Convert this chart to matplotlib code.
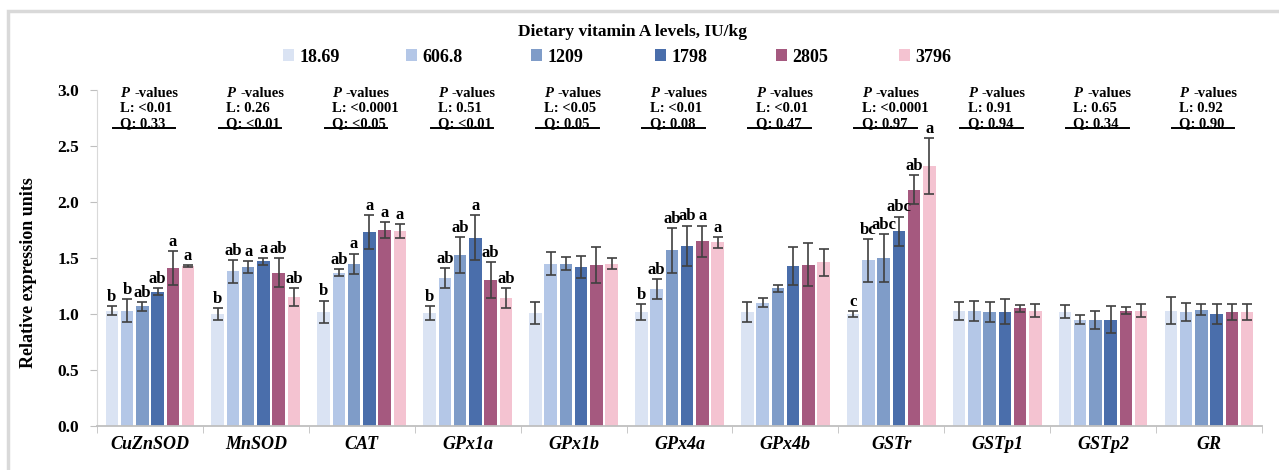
import numpy as np
import matplotlib
matplotlib.use("Agg")
import matplotlib.pyplot as plt
from matplotlib.patches import Patch, Rectangle

plt.rcParams['font.family'] = ['Liberation Serif', 'DejaVu Serif']
plt.rcParams['font.weight'] = 'bold'

# ---- data ----
genes = ['CuZnSOD', 'MnSOD', 'CAT', 'GPx1a', 'GPx1b', 'GPx4a',
         'GPx4b', 'GSTr', 'GSTp1', 'GSTp2', 'GR']
levels = ['18.69', '606.8', '1209', '1798', '2805', '3796']
colors = ['#dae3f3', '#b4c7e7', '#7f9cc8', '#4a6eab', '#a5597f', '#f4c3d1']

means = [
    [1.03, 1.03, 1.07, 1.20, 1.41, 1.43],
    [1.00, 1.38, 1.42, 1.47, 1.37, 1.15],
    [1.02, 1.37, 1.45, 1.73, 1.75, 1.74],
    [1.01, 1.32, 1.53, 1.68, 1.30, 1.14],
    [1.01, 1.45, 1.45, 1.42, 1.44, 1.45],
    [1.02, 1.22, 1.57, 1.61, 1.65, 1.64],
    [1.02, 1.10, 1.23, 1.43, 1.44, 1.46],
    [1.00, 1.48, 1.50, 1.74, 2.11, 2.32],
    [1.03, 1.03, 1.02, 1.02, 1.05, 1.03],
    [1.02, 0.95, 0.95, 0.95, 1.03, 1.03],
    [1.03, 1.02, 1.04, 1.00, 1.02, 1.02],
]
errs = [
    [0.04, 0.10, 0.04, 0.03, 0.15, 0.01],
    [0.05, 0.10, 0.05, 0.03, 0.13, 0.08],
    [0.10, 0.03, 0.09, 0.15, 0.07, 0.06],
    [0.06, 0.09, 0.16, 0.20, 0.16, 0.09],
    [0.10, 0.10, 0.06, 0.10, 0.16, 0.05],
    [0.07, 0.09, 0.20, 0.18, 0.14, 0.05],
    [0.09, 0.04, 0.03, 0.17, 0.19, 0.12],
    [0.03, 0.19, 0.21, 0.13, 0.13, 0.25],
    [0.08, 0.09, 0.09, 0.11, 0.03, 0.06],
    [0.06, 0.04, 0.08, 0.12, 0.03, 0.06],
    [0.12, 0.08, 0.05, 0.09, 0.07, 0.07],
]
letters = [
    ['b', 'b', 'ab', 'ab', 'a', 'a'],
    ['b', 'ab', 'a', 'a', 'ab', 'ab'],
    ['b', 'ab', 'a', 'a', 'a', 'a'],
    ['b', 'ab', 'ab', 'a', 'ab', 'ab'],
    None,
    ['b', 'ab', 'ab', 'ab', 'a', 'a'],
    None,
    ['c', 'bc', 'abc', 'abc', 'ab', 'a'],
    None, None, None,
]
p_linear = ['<0.01', '0.26', '<0.0001', '0.51', '<0.05', '<0.01',
            '<0.01', '<0.0001', '0.91', '0.65', '0.92']
p_quad = ['0.33', '<0.01', '<0.05', '<0.01', '0.05', '0.08',
          '0.47', '0.97', '0.94', '0.34', '0.90']

means = np.array(means)
errs = np.array(errs)

fig = plt.figure(figsize=(12.79, 4.70), dpi=100)
ax = fig.add_axes([0.0758, 0.0936, 0.9109, 0.7149])

# light frame round the whole chart
fig.patches.append(Rectangle((8 / 1279, -20 / 470), 1300 / 1279, 479 / 470,
                             transform=fig.transFigure, fill=False,
                             edgecolor='#d9d9d9', linewidth=2.5))

x = np.arange(len(genes))
step = 0.144
width = 0.118
for k in range(len(levels)):
    xs = x + (k - 2.5) * step
    ax.bar(xs, means[:, k], width, color=colors[k], label=levels[k], zorder=2)
    ax.errorbar(xs, means[:, k], yerr=errs[:, k], fmt='none',
                ecolor='#404040', elinewidth=1.2, capsize=3.5, capthick=1.2,
                zorder=3)
    for i in range(len(genes)):
        if letters[i] is not None:
            ax.text(xs[i], means[i, k] + errs[i, k] + 0.01, letters[i][k],
                    ha='center', va='bottom', fontsize=12, fontweight='bold')

# P-value blocks
fs = 10.5
for i in range(len(genes)):
    x0 = i - 0.28
    ax.text(x0, 2.94, 'P', fontsize=fs, style='italic', ha='left',
            va='baseline')
    ax.annotate('-values', xy=(x0, 2.94), xytext=(10, 0),
                textcoords='offset points', fontsize=fs, ha='left',
                va='baseline')
    ax.text(x0, 2.80, 'L: ' + p_linear[i], fontsize=fs, ha='left',
            va='baseline')
    ax.text(x0, 2.665, 'Q: ' + p_quad[i], fontsize=fs, ha='left',
            va='baseline')
    ax.plot([i - 0.35, i + 0.24], [2.665, 2.665], color='black', lw=1.4,
            zorder=4)

ax.set_xlim(-0.5, len(genes) - 0.5)
ax.set_ylim(0, 3.0)
ax.set_yticks(np.arange(0, 3.01, 0.5))
ax.set_yticklabels(['%.1f' % v for v in np.arange(0, 3.01, 0.5)],
                   fontsize=12.5, fontweight='bold')
ax.set_xticks(x)
ax.set_xticklabels(genes, fontsize=13, fontweight='bold', style='italic')
ax.set_xticks(np.arange(-0.5, len(genes)), minor=True)
ax.tick_params(axis='x', which='major', length=0, pad=7)
ax.tick_params(axis='x', which='minor', length=5, color='#bfbfbf')
ax.tick_params(axis='y', length=5, color='#bfbfbf', pad=8)
for s in ['top', 'right']:
    ax.spines[s].set_visible(False)
ax.spines['left'].set_color('#d9d9d9')
ax.spines['bottom'].set_color('#bfbfbf')
ax.spines['bottom'].set_linewidth(1.3)
ax.set_ylabel('Relative expression units', fontsize=13, fontweight='bold')
ax.yaxis.set_label_coords(-0.0515, 0.458)

fig.text(632 / 1279, 1 - 32 / 470, 'Dietary vitamin A levels, IU/kg',
         ha='center', va='center', fontsize=12.5, fontweight='bold')

# legend entries spaced evenly along the top row
legend_x = [283, 406, 531, 655, 776, 899]
for k in range(len(levels)):
    leg = fig.legend([Patch(facecolor=colors[k], edgecolor='none')],
                     [levels[k]], loc='center left', frameon=False,
                     bbox_to_anchor=(legend_x[k] / 1279, 1 - 57 / 470),
                     borderpad=0, borderaxespad=0,
                     handlelength=0.6, handleheight=0.6, handletextpad=0.3,
                     prop={'weight': 'bold', 'size': 13})

fig.savefig('out.png', dpi=100)
